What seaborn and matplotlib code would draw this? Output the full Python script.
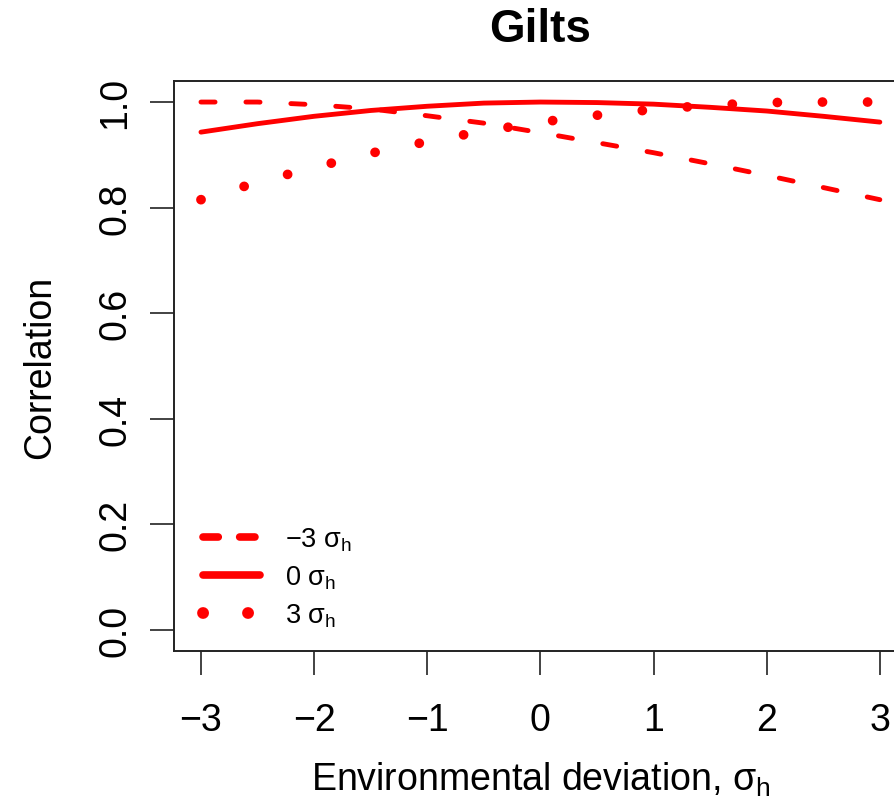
import numpy as np
import pandas as pd
import matplotlib
matplotlib.use("Agg")
import matplotlib.pyplot as plt
import seaborn as sns
from matplotlib.lines import Line2D

# ---- data ----
env_dev = [-3.0, -2.5, -2.0, -1.5, -1.0, -0.5, 0.0, 0.5, 1.0, 1.5, 2.0, 2.5, 3.0]
corr_minus3 = [1.000, 1.000, 0.995, 0.987, 0.974, 0.960, 0.942, 0.923, 0.904, 0.883, 0.861, 0.838, 0.815]
corr_0 = [0.943, 0.959, 0.973, 0.984, 0.992, 0.998, 1.000, 0.999, 0.996, 0.990, 0.983, 0.973, 0.962]
corr_plus3 = [0.815, 0.848, 0.876, 0.903, 0.925, 0.945, 0.962, 0.975, 0.986, 0.994, 0.999, 1.000, 1.000]
series_labels = ["−3 $\\sigma_h$", "0 $\\sigma_h$", "3 $\\sigma_h$"]
x_ticks = [-3, -2, -1, 0, 1, 2, 3]
x_tick_labels = ["−3", "−2", "−1", "0", "1", "2", "3"]
y_ticks = [0.0, 0.2, 0.4, 0.6, 0.8, 1.0]
y_tick_labels = ["0.0", "0.2", "0.4", "0.6", "0.8", "1.0"]

df = pd.DataFrame({
    "x": env_dev * 3,
    "y": corr_minus3 + corr_0 + corr_plus3,
    "series": [series_labels[0]] * len(env_dev) + [series_labels[1]] * len(env_dev) + [series_labels[2]] * len(env_dev),
})

sns.set_theme(style="white")
plt.rcParams["font.family"] = ["Liberation Sans", "DejaVu Sans"]
plt.rcParams["mathtext.fontset"] = "custom"
plt.rcParams["mathtext.rm"] = "Liberation Sans"
plt.rcParams["mathtext.it"] = "Liberation Sans"
plt.rcParams["mathtext.default"] = "regular"
plt.rcParams["text.color"] = "black"

fig = plt.figure(figsize=(8.95, 8.04), dpi=100)
ax = fig.add_axes([0.1942, 0.1891, 0.8192, 0.709])

red = "#ff0000"
styles = {
    series_labels[0]: dict(lw=3.5, ls=(0, (2.9, 6.35))),
    series_labels[1]: dict(lw=3.5, ls="-"),
    series_labels[2]: dict(lw=7.0, ls=(0, (0.01, 4.63))),
}
for lab in series_labels:
    sub = df[df["series"] == lab]
    st = styles[lab]
    sns.lineplot(data=sub, x="x", y="y", ax=ax, color=red, linewidth=st["lw"],
                 linestyle=st["ls"], dash_capstyle="round", solid_capstyle="round",
                 legend=False, estimator=None, sort=True)

ax.set_xlim(-3.24, 3.24)
ax.set_ylim(-0.04, 1.04)
ax.set_xticks(x_ticks)
ax.set_xticklabels(x_tick_labels)
ax.set_yticks(y_ticks)
ax.set_yticklabels(y_tick_labels, rotation=90, va="center")

for sp in ax.spines.values():
    sp.set_color("#222222")
    sp.set_linewidth(1.4)

ax.tick_params(axis="both", which="both", direction="out", length=17, width=1.2,
               color="#222222", labelsize=27, labelcolor="black", left=True, bottom=True)
ax.tick_params(axis="x", pad=19.5)
ax.tick_params(axis="y", pad=12)

ax.set_xlabel("Environmental deviation, $\\sigma_h$", fontsize=27, color="black")
ax.set_ylabel("Correlation", fontsize=27, color="black")
ax.xaxis.set_label_coords(0.5, -0.191)
ax.yaxis.set_label_coords(-0.158, 0.5)
ax.set_title("Gilts", fontsize=33, fontweight="bold", pad=29, color="black")

handles = [
    Line2D([0], [0], color=red, lw=5.5, ls=(0, (2.0, 2.8)), dash_capstyle="round"),
    Line2D([0], [0], color=red, lw=5.5, ls="-", solid_capstyle="round"),
    Line2D([0], [0], color=red, lw=8.5, ls=(0, (0.01, 3.8)), dash_capstyle="round"),
]
leg = ax.legend(handles, series_labels, loc="lower left", bbox_to_anchor=(0.022, 0.014),
                frameon=False, fontsize=19.5, handlelength=2.1, handletextpad=0.9,
                labelspacing=0.39, borderpad=0.0, labelcolor="black")

fig.savefig("out.png", dpi=100)
